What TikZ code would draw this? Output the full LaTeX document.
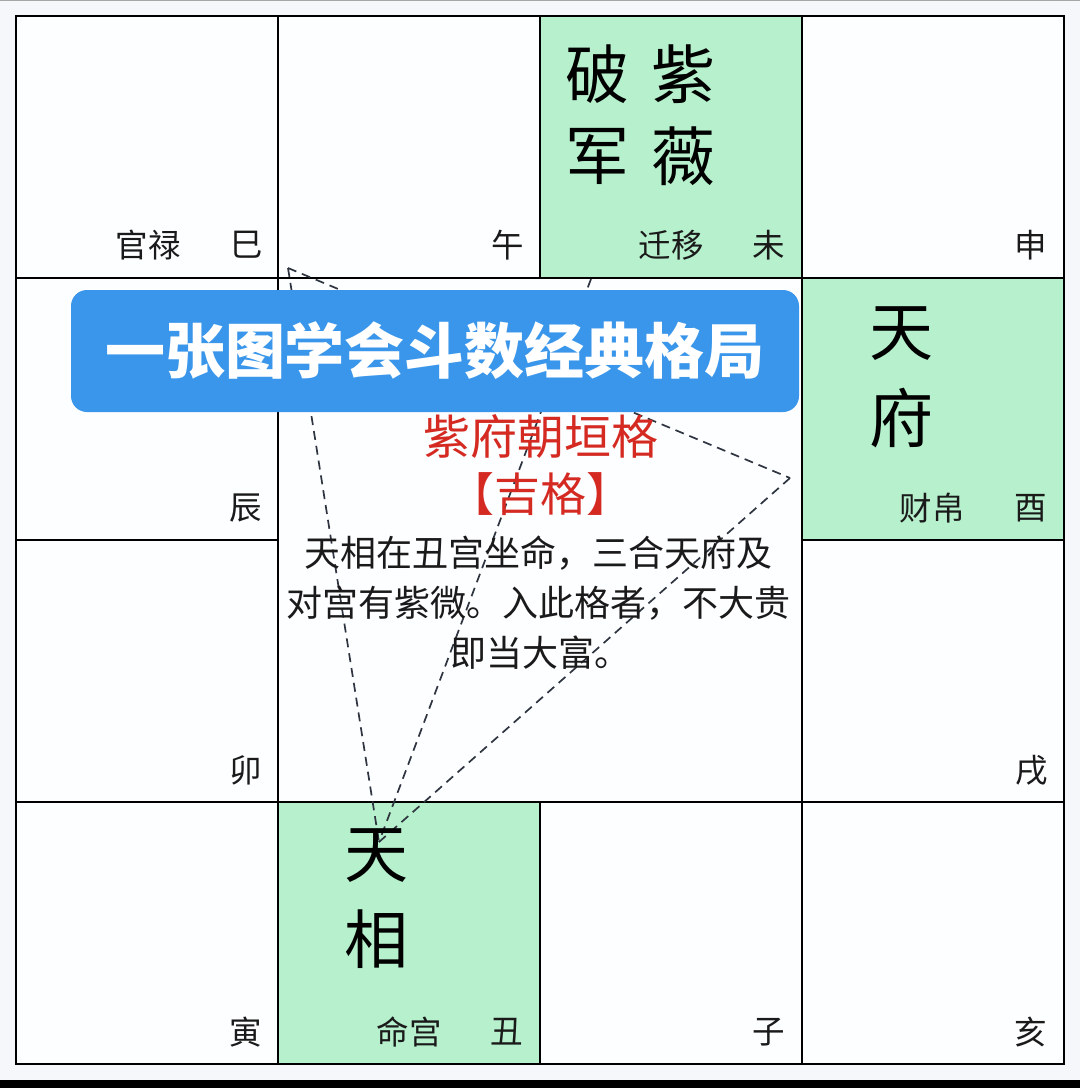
\documentclass[tikz,border=0pt]{standalone}
\usepackage{fontspec}
\setmainfont{Noto Sans CJK SC}
\newfontfamily\cjk{Noto Sans CJK SC}
\definecolor{bgc}{HTML}{F5F7FA}
\definecolor{cellc}{HTML}{FDFEFF}
\definecolor{greenc}{HTML}{B6F0CC}
\definecolor{bluec}{HTML}{3A96EA}
\definecolor{redc}{HTML}{D42A22}
\definecolor{inkc}{HTML}{1A1A1A}
\definecolor{dashc}{HTML}{2E3440}
\tikzset{
  lbl/.style={inner sep=0pt, text=inkc, font=\cjk\fontsize{32.5}{38}\selectfont},
  star/.style={inner sep=0pt, text=black, font=\cjk\fontsize{64}{70}\selectfont},
  gridline/.style={draw=black, line width=2pt},
  dashline/.style={draw=dashc, line width=1.7pt, dash pattern=on 9pt off 6pt},
  banner/.style={fill=bluec, rounded corners=16pt},
  bannertext/.style={inner sep=0pt, text=white, font=\cjk\bfseries\fontsize{60}{66}\selectfont},
  redtitle/.style={inner sep=0pt, text=redc, font=\cjk\fontsize{47}{52}\selectfont},
  redtag/.style={inner sep=0pt, text=redc, font=\cjk\fontsize{46}{50}\selectfont},
  body/.style={inner sep=0pt, text=inkc, font=\cjk\fontsize{36}{42}\selectfont}
}
\begin{document}
\begin{tikzpicture}[x=1pt,y=-1pt]
\useasboundingbox (0,0) rectangle (1080,1088);
% background
\fill[bgc] (0,0) rectangle (1080,1088);
\fill[black] (0,1080) rectangle (1080,1088);
\fill[gray!70] (0,0) rectangle (1080,1);
% board
\fill[cellc] (16,16) rectangle (1064,1064);
\fill[greenc] (540,16) rectangle (802,278);
\fill[greenc] (802,278) rectangle (1064,540);
\fill[greenc] (278,802) rectangle (540,1064);
% grid
\draw[gridline] (16,16) rectangle (1064,1064);
\draw[gridline] (278,16) -- (278,1064);
\draw[gridline] (802,16) -- (802,1064);
\draw[gridline] (16,278) -- (1064,278);
\draw[gridline] (16,802) -- (1064,802);
\draw[gridline] (540,16) -- (540,278);
\draw[gridline] (540,802) -- (540,1064);
\draw[gridline] (16,540) -- (278,540);
\draw[gridline] (802,540) -- (1064,540);
% dashed triangle / lines
\coordinate (A) at (288,268);
\coordinate (B) at (790,478);
\coordinate (D) at (591,279);
\coordinate (P) at (379,842);
\draw[dashline] (A) -- (B);
\draw[dashline] (A) -- (P);
\draw[dashline] (D) -- (P);
\draw[dashline] (B) -- (P);
% palace labels
\node[lbl] (gl) at (148,245) {官禄};
\node[lbl] (si) at (247,245) {巳};
\node[lbl] (wu) at (508,245) {午};
\node[lbl] (qy) at (671,245) {迁移};
\node[lbl] (wei) at (769,245) {未};
\node[lbl] (shen) at (1031,245) {申};
\node[lbl] (chen) at (246,508) {辰};
\node[lbl] (cb) at (932,508) {财帛};
\node[lbl] (you) at (1031,508) {酉};
\node[lbl] (mao) at (246,770) {卯};
\node[lbl] (xu) at (1032,770) {戌};
\node[lbl] (yin) at (246,1032) {寅};
\node[lbl] (mg) at (409,1032) {命宫};
\node[lbl] (chou) at (507,1032) {丑};
\node[lbl] (zi) at (769,1032) {子};
\node[lbl] (hai) at (1031,1032) {亥};
% stars
\node[star] (po) at (597,74) {破};
\node[star] (zi1) at (683,74) {紫};
\node[star] (jun) at (597,156) {军};
\node[star] (wei1) at (683,156) {薇};
\node[star] (tian1) at (901,334) {天};
\node[star] (fu) at (901,418) {府};
\node[star] (tian2) at (376,856) {天};
\node[star] (xiang) at (376,939) {相};
% banner
\fill[banner] (71,290) rectangle (799,412);
\node[bannertext] (title) at (435,351) {一张图学会斗数经典格局};
% central text
\node[redtitle] (name) at (541,437) {紫府朝垣格};
\node[redtag] (tag) at (540,494) {【吉格】};
\node[body] (l1) at (538,553) {天相在丑宫坐命，三合天府及};
\node[body] (l2) at (538,603) {对宫有紫微。入此格者，不大贵};
\node[body] (l3) at (540,653) {即当大富。};
\end{tikzpicture}
\end{document}
